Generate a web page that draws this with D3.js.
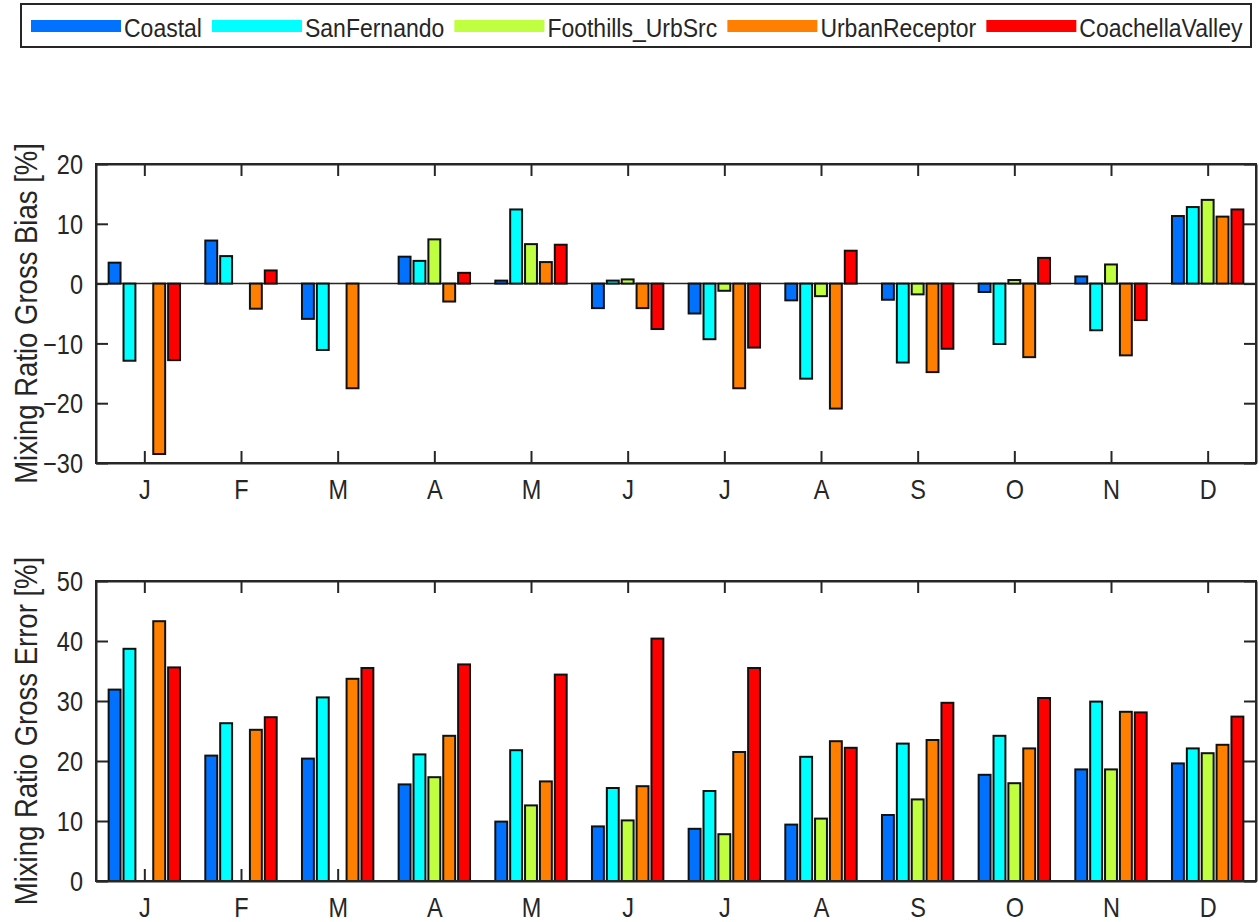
<!DOCTYPE html>
<html>
<head>
<meta charset="utf-8">
<script src="https://cdn.jsdelivr.net/npm/d3@7"></script>
<style>
  body{margin:0;background:#fff;}
  svg text{font-family:"Liberation Sans",Arial,Helvetica,sans-serif;fill:#262626;}
  .axis path,.axis line{stroke:#262626;stroke-width:2;}
</style>
</head>
<body>
<div id="grafico"></div>
<script>
// data
const months=["J","F","M","A","M","J","J","A","S","O","N","D"]
const series=["Coastal","SanFernando","Foothills_UrbSrc","UrbanReceptor","CoachellaValley"]
const colors=["#0072ff","#00ffff","#bfff3f","#ff8000","#ff0000"]

// gross bias [%]
const biasCoastal=[3.5,7.2,-5.9,4.5,0.5,-4.1,-5.0,-2.8,-2.7,-1.4,1.2,11.3]
const biasSanFernando=[-12.9,4.6,-11.1,3.8,12.4,0.5,-9.3,-15.9,-13.2,-10.1,-7.8,12.8]
const biasFoothills=[0,0,0,7.4,6.6,0.7,-1.2,-2.1,-1.8,0.6,3.2,14.0]
const biasUrbanReceptor=[-28.5,-4.2,-17.5,-3.0,3.6,-4.1,-17.5,-20.9,-14.8,-12.3,-12.0,11.2]
const biasCoachella=[-12.8,2.2,0,1.8,6.5,-7.6,-10.7,5.5,-10.9,4.3,-6.1,12.4]

// gross error [%]
const errCoastal=[31.9,20.9,20.4,16.1,9.9,9.1,8.7,9.4,11.0,17.7,18.6,19.6]
const errSanFernando=[38.7,26.3,30.6,21.1,21.8,15.5,15.0,20.7,22.9,24.2,29.9,22.1]
const errFoothills=[null,null,null,17.3,12.6,10.1,7.8,10.4,13.6,16.3,18.6,21.3]
const errUrbanReceptor=[43.3,25.2,33.7,24.2,16.6,15.8,21.5,23.3,23.5,22.1,28.2,22.7]
const errCoachella=[35.6,27.3,35.5,36.1,34.4,40.4,35.5,22.2,29.7,30.5,28.1,27.4]

const biasTicks=[-30,-20,-10,0,10,20]
const errTicks=[0,10,20,30,40,50]

const W=1259, H=922
const stretch=1.15 //glyphs in the figure are a bit taller than Arial

let svg=d3.select("#grafico")
  .append("svg")
    .attr("width",W)
    .attr("height",H)

//move x/y into a transform so the text can be stretched vertically
let tall=(sel)=>{
  sel.each(function(){
    let t=d3.select(this)
    let tx=+t.attr("x")||0, ty=+t.attr("y")||0
    t.attr("x",0).attr("y",0)
     .attr("transform",`translate(${tx},${ty}) scale(1,${stretch})`)
  })
}

//shared x scale (month index 1..12)
let x=d3.scaleLinear().domain([0.5,12.5]).range([96,1256])
let unit=x(1)-x(0)
let groupW=Math.min(0.8,series.length/(series.length+1.5))*unit
let x1=d3.scaleBand()
  .domain(series)
  .range([-groupW/2,groupW/2])
  .paddingInner(0.2)
  .paddingOuter(0.1)

let drawPanel=(opts)=>{
  const {top,bottom,domain,ticks,values,label}=opts
  let y=d3.scaleLinear().domain(domain).range([bottom,top])
  let g=svg.append("g")

  //axes (ticks inward, mirrored on all sides)
  g.append("g").attr("class","axis")
    .attr("transform",`translate(${x.range()[0]},0)`)
    .call(d3.axisLeft(y).tickValues(ticks).tickSize(-12).tickSizeOuter(0).tickPadding(13).tickFormat(d3.format("d")))
    .call(a=>a.selectAll("text").attr("font-size",23.5).attr("dy","0.36em").call(tall))
  g.append("g").attr("class","axis")
    .attr("transform",`translate(${x.range()[1]},0)`)
    .call(d3.axisRight(y).tickValues(ticks).tickSize(-12).tickSizeOuter(0).tickFormat(""))
  g.append("g").attr("class","axis")
    .attr("transform",`translate(0,${bottom})`)
    .call(d3.axisBottom(x).tickValues(d3.range(1,13)).tickSize(-12).tickSizeOuter(0).tickPadding(26).tickFormat((d)=>months[d-1]))
    .call(a=>a.selectAll("text").attr("font-size",23.5).attr("dy","0.36em").call(tall))
  g.append("g").attr("class","axis")
    .attr("transform",`translate(0,${top})`)
    .call(d3.axisTop(x).tickValues(d3.range(1,13)).tickSize(-12).tickSizeOuter(0).tickFormat(""))
  g.selectAll(".axis text").attr("fill","#262626").attr("stroke","none")

  //baseline at zero
  if(domain[0]<0){
    g.append("line")
      .attr("x1",x.range()[0]).attr("x2",x.range()[1])
      .attr("y1",y(0)).attr("y2",y(0))
      .attr("stroke","#262626").attr("stroke-width",1.5)
  }

  //bars
  series.forEach((s,k)=>{
    let pts=values[k].map((v,i)=>({m:i+1,v:v})).filter(d=>d.v!==null)
    g.append("g").selectAll("rect")
      .data(pts)
      .enter()
      .append("rect")
        .attr("x",d=>x(d.m)+x1(s))
        .attr("width",x1.bandwidth())
        .attr("y",d=>y(Math.max(0,d.v)))
        .attr("height",d=>Math.abs(y(d.v)-y(0)))
        .attr("fill",colors[k])
        .attr("stroke","#111")
        .attr("stroke-width",2)
  })

  //box on top
  g.append("rect")
    .attr("x",x.range()[0]).attr("y",top)
    .attr("width",x.range()[1]-x.range()[0]).attr("height",bottom-top)
    .attr("fill","none").attr("stroke","#262626").attr("stroke-width",2)

  //y label
  g.append("text")
    .attr("transform",`translate(37,${(top+bottom)/2}) rotate(-90) scale(1,${stretch})`)
    .attr("text-anchor","middle")
    .attr("font-size",27.5)
    .text(label)
}

drawPanel({top:164,bottom:463,domain:[-30,20],ticks:biasTicks,
  values:[biasCoastal,biasSanFernando,biasFoothills,biasUrbanReceptor,biasCoachella],
  label:"Mixing Ratio Gross Bias [%]"})

drawPanel({top:581,bottom:881,domain:[0,50],ticks:errTicks,
  values:[errCoastal,errSanFernando,errFoothills,errUrbanReceptor,errCoachella],
  label:"Mixing Ratio Gross Error [%]"})

//legend
let leg=svg.append("g")
leg.append("rect")
  .attr("x",21).attr("y",4).attr("width",1230).attr("height",43)
  .attr("fill","#fff").attr("stroke","#262626").attr("stroke-width",2)
let lx=31
series.forEach((s,k)=>{
  leg.append("rect")
    .attr("x",lx).attr("y",20).attr("width",90).attr("height",12)
    .attr("fill",colors[k])
  let t=leg.append("text")
    .attr("x",lx+93).attr("y",27)
    .attr("dy","0.36em")
    .attr("font-size",23)
    .attr("fill","#000")
    .text(s)
  let tw=t.node().getComputedTextLength()
  t.call(tall)
  lx+=93+tw+10
})
</script>
</body>
</html>
